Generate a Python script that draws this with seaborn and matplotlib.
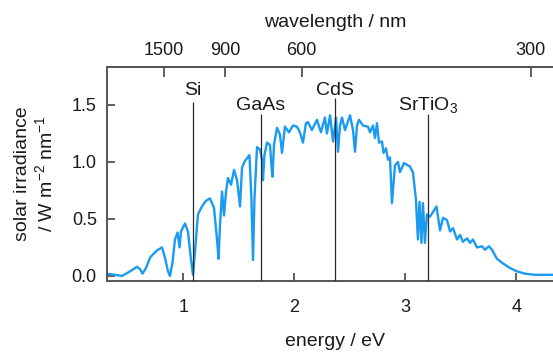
import numpy as np
import matplotlib
matplotlib.use("Agg")
import matplotlib.pyplot as plt
import seaborn as sns

# Solar irradiance spectrum (AM1.5-like) on an energy scale
energy_ev = [
    0.309, 0.386, 0.449, 0.521, 0.584, 0.611, 0.633, 0.665, 0.701, 0.728,
    0.773, 0.809, 0.836, 0.863, 0.881, 0.904, 0.926, 0.949, 0.967, 0.980,
    1.016, 1.043, 1.066, 1.088, 1.111, 1.133, 1.169, 1.205, 1.241, 1.277,
    1.305, 1.318, 1.332, 1.350, 1.368, 1.386, 1.404, 1.431, 1.458, 1.485,
    1.512, 1.530, 1.557, 1.597, 1.615, 1.629, 1.642, 1.665, 1.692, 1.710,
    1.719, 1.732, 1.755, 1.782, 1.795, 1.805, 1.818, 1.845, 1.872, 1.890,
    1.917, 1.953, 1.989, 2.025, 2.052, 2.079, 2.106, 2.124, 2.160, 2.205,
    2.241, 2.277, 2.295, 2.323, 2.350, 2.377, 2.395, 2.413, 2.431, 2.458,
    2.503, 2.530, 2.548, 2.566, 2.584, 2.620, 2.665, 2.683, 2.710, 2.728,
    2.746, 2.764, 2.791, 2.805, 2.827, 2.845, 2.863, 2.881, 2.908, 2.935,
    2.953, 2.989, 3.043, 3.070, 3.097, 3.115, 3.129, 3.147, 3.160, 3.178,
    3.196, 3.223, 3.250, 3.282, 3.314, 3.341, 3.377, 3.404, 3.431, 3.467,
    3.494, 3.521, 3.557, 3.584, 3.611, 3.647, 3.692, 3.719, 3.755, 3.782,
    3.827, 3.881, 3.944, 4.007, 4.079, 4.169, 4.332,
]
irradiance = [
    0.02, 0.01, 0.00, 0.04, 0.08, 0.06, 0.02, 0.07, 0.16, 0.19,
    0.23, 0.25, 0.16, 0.04, 0.00, 0.12, 0.32, 0.38, 0.25, 0.39,
    0.46, 0.39, 0.18, 0.01, 0.27, 0.54, 0.61, 0.66, 0.68, 0.60,
    0.32, 0.15, 0.45, 0.74, 0.53, 0.74, 0.86, 0.80, 0.93, 0.84,
    0.61, 0.95, 1.01, 1.06, 0.67, 0.14, 0.67, 1.13, 1.11, 1.02,
    0.84, 1.06, 1.17, 1.15, 0.97, 0.87, 1.15, 1.30, 1.24, 1.08,
    1.31, 1.26, 1.32, 1.31, 1.26, 1.17, 1.34, 1.35, 1.28, 1.37,
    1.26, 1.39, 1.25, 1.41, 1.18, 1.39, 1.09, 1.32, 1.39, 1.28,
    1.41, 1.28, 1.09, 1.32, 1.37, 1.32, 1.31, 1.26, 1.32, 1.21,
    1.34, 1.17, 1.18, 1.08, 1.12, 1.02, 1.04, 0.64, 0.97, 1.00,
    0.91, 0.99, 0.96, 0.91, 0.67, 0.32, 0.65, 0.29, 0.64, 0.29,
    0.54, 0.52, 0.56, 0.61, 0.40, 0.51, 0.49, 0.39, 0.42, 0.32,
    0.36, 0.30, 0.33, 0.29, 0.32, 0.25, 0.26, 0.23, 0.26, 0.23,
    0.15, 0.11, 0.07, 0.04, 0.02, 0.01, 0.01,
]

# Band gaps of common semiconductors
materials = ["Si", "GaAs", "CdS", "SrTiO$_3$"]
band_gap_ev = [1.091, 1.701, 2.368, 3.203]
label_heights = [1.592, 1.456, 1.592, 1.456]
line_tops = [1.529, 1.424, 1.558, 1.424]

wavelength_ticks = [1500, 900, 600, 300]
energy_ticks = [1, 2, 3, 4]
irradiance_ticks = [0.0, 0.5, 1.0, 1.5]

sns.set_theme(style="white")
plt.rcParams["font.family"] = ["Liberation Sans", "DejaVu Sans"]
plt.rcParams["mathtext.default"] = "regular"

line_color = "#1a9af0"
spine_color = "#555555"
text_color = "#1a1a1a"

fig = plt.figure(figsize=(5.53, 3.52), dpi=100)
ax = fig.add_axes([106.5 / 553, (352 - 280.5) / 352,
                   (563 - 106.5) / 553, (280.5 - 66.7) / 352])

sns.lineplot(x=energy_ev, y=irradiance, ax=ax, color=line_color,
             linewidth=1.7, solid_joinstyle="round", zorder=2)

for x, top, lab, ty in zip(band_gap_ev, line_tops, materials, label_heights):
    ax.vlines(x, -0.04, top, color="#2a2a2a", linewidth=0.9, zorder=3)
    ax.text(x, ty, lab, ha="center", va="baseline", fontsize=14,
            color=text_color)

ax.set_xlim(0.309, 4.422)
ax.set_ylim(-0.04, 1.836)
ax.set_xticks(energy_ticks)
ax.set_yticks(irradiance_ticks)
ax.set_yticklabels([f"{v:.1f}" for v in irradiance_ticks])

for side in ["left", "bottom", "top"]:
    ax.spines[side].set_color(spine_color)
    ax.spines[side].set_linewidth(1.4)
ax.spines["right"].set_visible(False)

ax.tick_params(axis="x", which="both", direction="in", length=6, width=1.1,
               color="#333333", labelsize=13, labelcolor=text_color,
               pad=13, top=False, bottom=True)
ax.tick_params(axis="y", which="both", direction="in", length=5.5, width=1.1,
               color="#333333", labelsize=13, labelcolor=text_color,
               pad=7, left=True, right=False)

ax.set_xlabel("energy / eV", fontsize=14, color=text_color)
ax.xaxis.set_label_coords(0.5, -0.245)
ax.set_ylabel("solar irradiance\n/ W m$^{-2}$ nm$^{-1}$", fontsize=14,
              color=text_color, linespacing=1.15)
ax.yaxis.set_label_coords(-0.111, 0.5)


def ev_to_nm(e):
    e = np.asarray(e, dtype=float)
    with np.errstate(divide="ignore", invalid="ignore"):
        return 1240.0 / e


def nm_to_ev(w):
    w = np.asarray(w, dtype=float)
    with np.errstate(divide="ignore", invalid="ignore"):
        return 1240.0 / w


secax = ax.secondary_xaxis("top", functions=(ev_to_nm, nm_to_ev))
secax.set_xticks(wavelength_ticks)
secax.set_xticklabels([str(w) for w in wavelength_ticks])
secax.tick_params(axis="x", direction="in", length=7, width=1.1,
                  color="#333333", labelsize=13, labelcolor=text_color, pad=5.5)
secax.spines["top"].set_color(spine_color)
secax.spines["top"].set_linewidth(1.4)
secax.set_xlabel("wavelength / nm", fontsize=14, color=text_color, labelpad=11)

fig.savefig("out.png", dpi=100)
